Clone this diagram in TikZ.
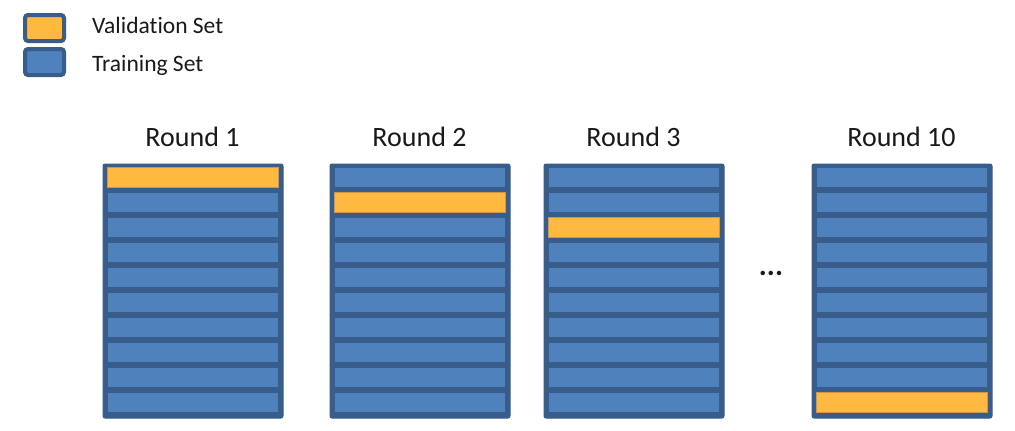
\documentclass[tikz,border=0pt]{standalone}
\usepackage{fontspec}
\setmainfont[Ligatures=NoCommon]{Carlito}
\definecolor{tblue}{RGB}{79,129,189}
\definecolor{tdark}{RGB}{56,93,138}
\definecolor{tyel}{RGB}{255,185,64}
\definecolor{tyelb}{RGB}{205,150,75}
\definecolor{ttext}{RGB}{25,25,25}
\begin{document}
\begin{tikzpicture}[x=1pt,y=-1pt,
  frame/.style={fill=tdark,draw=tdark,line width=1pt,rounded corners=2pt,
    minimum width=180pt,minimum height=254pt,inner sep=0pt,anchor=north west},
  rowbox/.style={draw=tdark!85!black,line width=0.8pt,minimum width=171pt,
    minimum height=20pt,inner sep=0pt,anchor=north west},
  title/.style={font=\fontsize{28}{33}\selectfont,text=ttext,anchor=base,inner sep=0pt},
  legbox/.style={draw=tdark,line width=4pt,rounded corners=3pt,minimum width=39pt,
    minimum height=26pt,inner sep=0pt},
  legtext/.style={font=\fontsize{23.5}{28}\selectfont,text=ttext,anchor=base west,inner sep=0pt}]
\useasboundingbox (0,0) rectangle (1015,431);
% legend
\node[legbox,fill=tyel] (lv) at (44.5,28) {};
\node[legbox,fill=tblue] (lt) at (44.5,62) {};
\node[legtext] (lvt) at (92,33) {Validation Set};
\node[legtext] (ltt) at (92,71) {Training Set};
% columns
\foreach \x/\t/\v [count=\c] in {102/Round 1/1,329/Round 2/2,543/Round 3/3,811/Round 10/10}{
  \node[frame] (col\c) at (\x+0.5,163.5) {};
  \node[title] (title\c) at (\x+90.5,146) {\t};
  \foreach \r in {1,...,10}{
    \ifnum\r=\v\def\fc{tyel}\def\bc{tyelb}\else\def\fc{tblue}\def\bc{tdark}\fi
    \node[rowbox,fill=\fc,draw=\bc] (c\c r\r) at (\x+5,{167.4+25*(\r-1)}) {};
  }
}
\node[title,font=\fontsize{30}{33}\selectfont\bfseries] (dots) at (771,275) {...};
\end{tikzpicture}
\end{document}
